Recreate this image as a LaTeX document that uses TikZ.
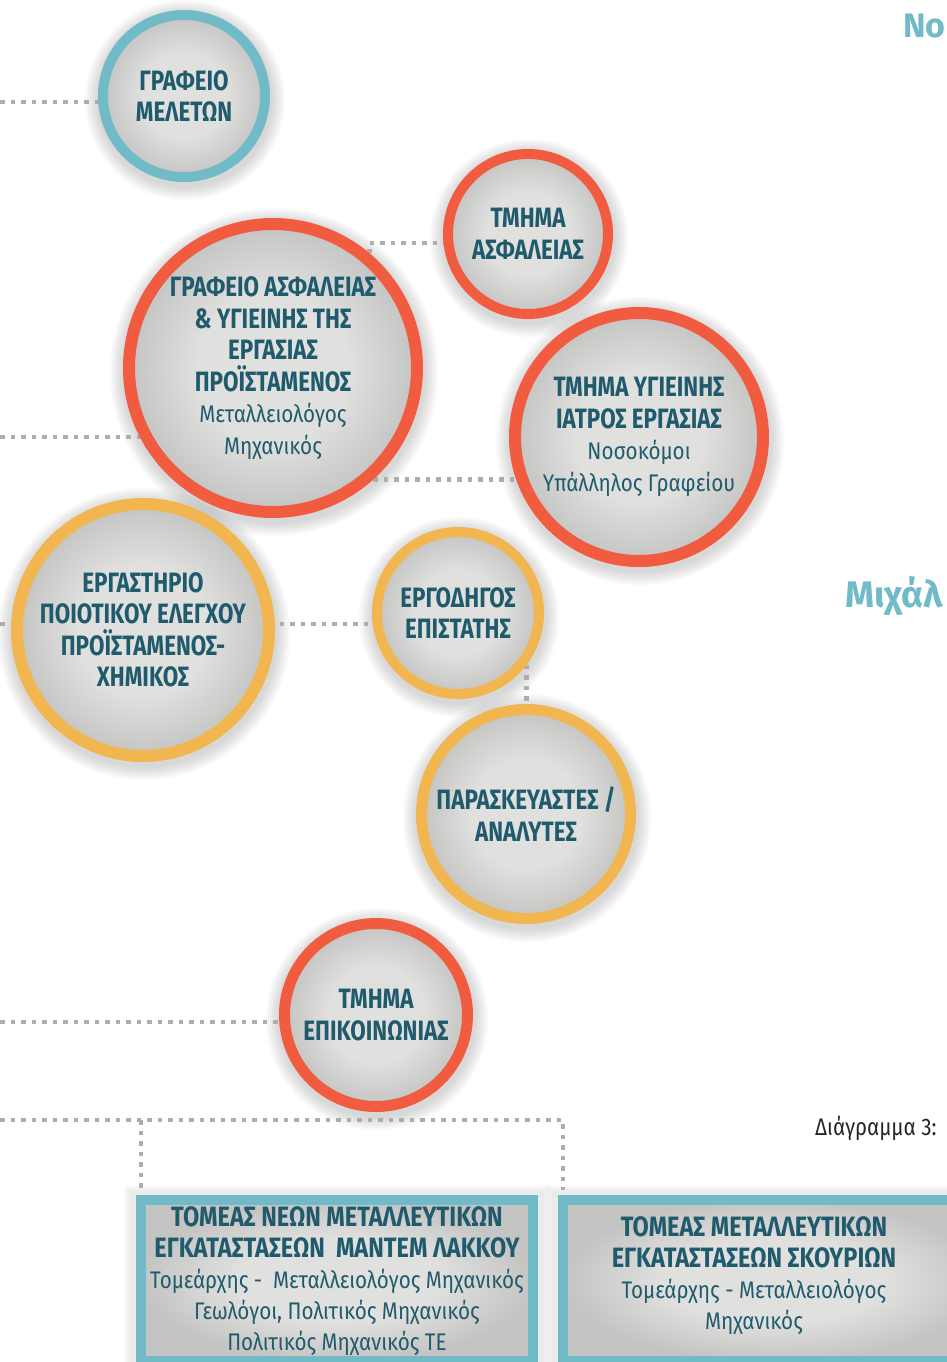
\documentclass[tikz,border=0pt]{standalone}
\usepackage{fontspec}
\setmainfont{Fira Sans}
\newfontfamily\hdfont[FakeStretch=0.8]{Fira Sans}
\newfontfamily\boxfont[FakeStretch=0.84]{Fira Sans}
\newfontfamily\subfont[FakeStretch=0.86]{Fira Sans}
\newfontfamily\ttlfont{Fira Sans}
\usetikzlibrary{backgrounds,calc}
\definecolor{ringred}{HTML}{F15B40}
\definecolor{ringblue}{HTML}{71BAC7}
\definecolor{ringyel}{HTML}{F1B64F}
\definecolor{txtcol}{HTML}{1F5A6D}
\definecolor{dotgray}{HTML}{ADADAD}
\definecolor{discin}{HTML}{E0E0DE}
\definecolor{discout}{HTML}{C4C4C3}
\pgfdeclareradialshading{disc}{\pgfpointorigin}{color(0bp)=(discin); color(13bp)=(discin); color(25bp)=(discout); color(50bp)=(discout)}
\newcommand\sublines{\subfont\mdseries\fontsize{24}{29.5}\selectfont}
\tikzset{
  circ/.style={circle, draw=#1, line width=10pt, shade, shading=disc, align=center,
    inner sep=0pt, text=txtcol, font=\hdfont\bfseries\fontsize{28}{31.5}\selectfont},
  boxnode/.style={rectangle, draw=ringblue, line width=10pt, shade, shading=disc, inner sep=0pt},
  boxtext/.style={align=center, inner sep=0pt, text=txtcol, font=\boxfont\bfseries\fontsize{28}{31}\selectfont},
  conn/.style={draw=dotgray, line width=4.5pt, dash pattern=on 4.5pt off 6pt},
  shad/.style={black, opacity=0.022},
  bshad/.style={black, opacity=0.014}
}
\begin{document}
\begin{tikzpicture}[x=1pt,y=-1pt]
\useasboundingbox (0,0) rectangle (946,1362);
% circles
\node[circ=ringblue, minimum size=162pt] (meletes) at (184,96) {ΓΡΑΦΕΙΟ\\ΜΕΛΕΤΩΝ};
\node[circ=ringred, minimum size=160pt] (asfaleia) at (528,234) {ΤΜΗΜΑ\\ΑΣΦΑΛΕΙΑΣ};
\node[circ=ringred, line width=12pt, minimum size=288pt] (big) at (273,368)
  {ΓΡΑΦΕΙΟ ΑΣΦΑΛΕΙΑΣ\\\& ΥΓΙΕΙΝΗΣ ΤΗΣ\\ΕΡΓΑΣΙΑΣ\\ΠΡΟΪΣΤΑΜΕΝΟΣ\\{\sublines Μεταλλειολόγος}\\{\sublines Μηχανικός}};
\node[circ=ringred, line width=12pt, minimum size=248pt] (ygieini) at (639,437)
  {ΤΜΗΜΑ ΥΓΙΕΙΝΗΣ\\ΙΑΤΡΟΣ ΕΡΓΑΣΙΑΣ\\{\sublines Νοσοκόμοι}\\{\sublines Υπάλληλος Γραφείου}};
\node[circ=ringyel, line width=12pt, minimum size=252pt] (ergast) at (143,630)
  {ΕΡΓΑΣΤΗΡΙΟ\\ΠΟΙΟΤΙΚΟΥ ΕΛΕΓΧΟΥ\\ΠΡΟΪΣΤΑΜΕΝΟΣ-\\ΧΗΜΙΚΟΣ};
\node[circ=ringyel, minimum size=162pt] (ergod) at (458,613) {ΕΡΓΟΔΗΓΟΣ\\ΕΠΙΣΤΑΤΗΣ};
\node[circ=ringyel, line width=11pt, minimum size=209pt] (parask) at (526,814) {ΠΑΡΑΣΚΕΥΑΣΤΕΣ /\\ΑΝΑΛΥΤΕΣ};
\node[circ=ringred, line width=11pt, minimum size=183pt] (epik) at (376,1015) {ΤΜΗΜΑ\\ΕΠΙΚΟΙΝΩΝΙΑΣ};
% boxes
\node[boxnode, minimum width=392pt, minimum height=161pt] (box1) at (337,1280.5) {};
\node[boxnode, minimum width=422pt, minimum height=161pt] (box2) at (774,1280.5) {};
\node[boxtext] (box1text) at (337,1281)
  {ΤΟΜΕΑΣ ΝΕΩΝ ΜΕΤΑΛΛΕΥΤΙΚΩΝ\\ΕΓΚΑΤΑΣΤΑΣΕΩΝ\ \ ΜΑΝΤΕΜ ΛΑΚΚΟΥ\\{\sublines Τομεάρχης -\ \ Μεταλλειολόγος Μηχανικός}\\{\sublines Γεωλόγοι, Πολιτικός Μηχανικός}\\{\sublines Πολιτικός Μηχανικός ΤΕ}};
\node[boxtext] (box2text) at (754,1276)
  {ΤΟΜΕΑΣ ΜΕΤΑΛΛΕΥΤΙΚΩΝ\\ΕΓΚΑΤΑΣΤΑΣΕΩΝ ΣΚΟΥΡΙΩΝ\\{\sublines Τομεάρχης - Μεταλλειολόγος}\\{\sublines Μηχανικός}};
% titles
\node[anchor=base west, inner sep=0pt, text=ringblue, font=\ttlfont\bfseries\fontsize{34}{34}\selectfont] (ttlno) at (903,38) {No};
\node[anchor=base west, inner sep=0pt, text=ringblue, font=\ttlfont\bfseries\fontsize{37}{37}\selectfont] (ttlmich) at (845,607) {Μιχάλ};
\node[anchor=base west, inner sep=0pt, text=black!85, font=\subfont\fontsize{24}{24}\selectfont] (diag) at (815,1135) {Διάγραμμα 3:};
% connectors and shadows
\coordinate (L1) at (0,102);
\coordinate (L2) at (0,437);
\coordinate (L3) at (0,624);
\coordinate (L4) at (0,1022);
\coordinate (L5) at (0,1120);
\coordinate (B1top) at ($(box1.north west)+(5,-5)$);
\coordinate (B2top) at ($(box2.north west)+(5,-5)$);
\begin{pgfonlayer}{background}
  \foreach \n/\r in {meletes/86,asfaleia/85,big/150,ygieini/130,ergast/132,ergod/86,parask/110,epik/97}{
    \foreach \k in {1,...,7}{
      \fill[shad] ($(\n.center)+(1,4)$) circle [radius={(\r+2*\k)*1pt}];
    }
  }
  \foreach \k in {1,...,5}{
    \fill[bshad] ($(box1.north west)+(-5-1.5*\k,-3-1.5*\k)$) rectangle ($(box1.south east)+(5+1.5*\k,5+1.5*\k)$);
    \fill[bshad] ($(box2.north west)+(-5-1.5*\k,-3-1.5*\k)$) rectangle ($(box2.south east)+(5+1.5*\k,5+1.5*\k)$);
  }
  \draw[conn] (L1) -- (L1 -| meletes.center);
  \draw[conn] (L2) -- (L2 -| big.center);
  \draw[conn] (big.50) |- (asfaleia.186);
  \draw[conn] (big.-48) -- (big.-48 -| ygieini.center);
  \draw[conn] (L3) -- (L3 -| ergast.center);
  \draw[conn] (L3 -| ergast.center) -- (L3 -| ergod.center);
  \draw[conn] (ergod.-37) -- (ergod.-37 |- parask.center);
  \draw[conn] (L4) -- (L4 -| epik.center);
  \draw[conn] (L5) -| (B2top);
  \draw[conn] (B1top |- L5) -- (B1top);
\end{pgfonlayer}
\end{tikzpicture}
\end{document}
